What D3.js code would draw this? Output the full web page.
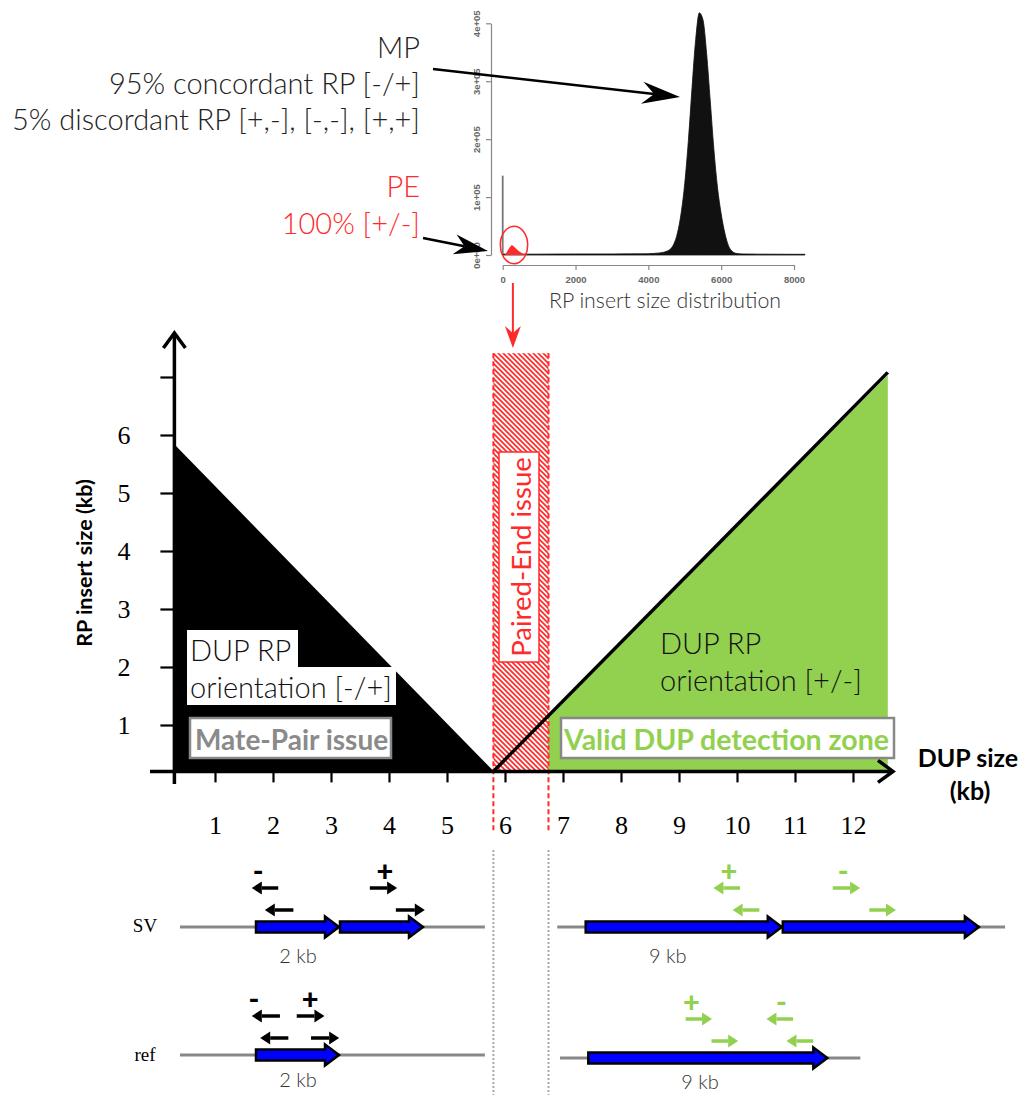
<!DOCTYPE html>
<html><head><meta charset="utf-8">
<script src="https://cdn.jsdelivr.net/npm/d3@7"></script>
<style>body{margin:0;background:#fff}svg{display:block}</style>
</head><body>
<svg id="c" width="1024" height="1095"></svg>
<script>
// ================= DATA =================
// main chart (kb)
const xTicks = [1,2,3,4,5,6,7,8,9,10,11,12];
const yTicks = [1,2,3,4,5,6,7];
const yTickLabels = ["1","2","3","4","5","6",""];
const mpZone = [[0.3,5.8],[0.3,0.2],[5.77,0.2]];
const peZone = [5.8, 6.75];
const peTop = 7.41;
const validZone = [[6.72,1.13],[12.6,7.03],[12.6,0.2],[6.72,0.2]];
const dupLine = [[5.8,0.2],[12.6,7.08]];

// insert size histogram
const histInsert = [0,1000,2000,3000,3800,4000,4100,4200,4300,4400,4500,4600,4700,4800,4900,5000,5100,5200,5300,5400,5500,5600,5700,5800,5900,6000,6100,6200,6300,6400,6500,6600,7000,8000,8300];
const histCount  = [1500,1500,1800,1800,2000,2200,2500,3000,3500,4500,6500,10000,19000,38000,72000,124000,198000,289000,372000,418000,406000,348000,266000,182000,116000,71000,38000,16000,6500,3000,2200,1800,1500,1200,1200];
const peInsert = [60,100,150,200,250,300,350,400,450,500,550,600,650,700];
const peCount  = [0,4000,9000,14000,17300,15000,12000,9000,6500,4500,2800,1500,600,0];
const spikeCount = 137000;
const histXTicks = [0,2000,4000,6000,8000];
const histYTicks = [0,100000,200000,300000,400000];

// schematic (kb along each row)
const dupLeftKb = 2, dupRightKb = 9;
const leftSVReads  = [{from:-0.1,to:0.53,tier:2,dir:-1},{from:0.21,to:0.89,tier:1,dir:-1},{from:2.71,to:3.36,tier:2,dir:1},{from:3.33,to:4.02,tier:1,dir:1}];
const leftSVSigns  = [{at:0.05,s:"-"},{at:3.07,s:"+"}];
const leftRefReads = [{from:-0.1,to:0.57,tier:2,dir:-1},{from:0.97,to:1.63,tier:2,dir:1},{from:0.1,to:0.77,tier:1,dir:-1},{from:1.31,to:1.98,tier:1,dir:1}];
const leftRefSigns = [{at:-0.05,s:"-"},{at:1.29,s:"+"}];
const rightSVReads = [{from:5.83,to:7.05,tier:2,dir:-1},{from:6.71,to:7.93,tier:1,dir:-1},{from:11.28,to:12.53,tier:2,dir:1},{from:12.95,to:14.17,tier:1,dir:1}];
const rightSVSigns = [{at:6.54,s:"+"},{at:11.76,s:"-"}];
const rightRefReads= [{from:3.65,to:4.64,tier:2,dir:1},{from:4.62,to:5.62,tier:1,dir:1},{from:6.68,to:7.68,tier:2,dir:-1},{from:7.43,to:8.43,tier:1,dir:-1}];
const rightRefSigns= [{at:3.87,s:"+"},{at:7.24,s:"-"}];

// ================= DRAW =================
const svg = d3.select("#c");
const LATO = "Lato, 'Open Sans', sans-serif";
const SERIF = "'Liberation Serif', 'DejaVu Serif', serif";
const RED = "#ff2a2a", GREEN = "#92d050";

const x = d3.scaleLinear().domain([0,13]).range([157,157+58*13]);
const y = d3.scaleLinear().domain([0,7]).range([783,377]);

// defs: hatch
const defs = svg.append("defs");
const pat = defs.append("pattern").attr("id","hatch").attr("patternUnits","userSpaceOnUse").attr("width",5).attr("height",5);
pat.append("rect").attr("width",5).attr("height",5).attr("fill","#fff");
pat.append("path").attr("d","M0,0L5,5M-1,4L1,6M4,-1L6,1").attr("stroke",RED).attr("stroke-width",1.7);

function barb(g,x1,y1,x2,y2,len,half,notch,color,w){
  const dx=x2-x1, dy=y2-y1, L=Math.hypot(dx,dy), ux=dx/L, uy=dy/L, nx=-uy, ny=ux;
  const bx=x2-ux*len, by=y2-uy*len, mx=x2-ux*(len-notch), my=y2-uy*(len-notch);
  g.append("line").attr("x1",x1).attr("y1",y1).attr("x2",mx).attr("y2",my).attr("stroke",color).attr("stroke-width",w);
  g.append("path").attr("d",`M${x2},${y2}L${bx+nx*half},${by+ny*half}L${mx},${my}L${bx-nx*half},${by-ny*half}Z`).attr("fill",color);
}

// ---------- histogram ----------
const hx = d3.scaleLinear().domain([0,8000]).range([502.7,794]);
const hy = d3.scaleLinear().domain([0,400000]).range([255,23.3]);
const hg = svg.append("g");
const hxa = hg.append("g").attr("transform","translate(0,265)").call(d3.axisBottom(hx).tickValues(histXTicks).tickSize(5).tickSizeOuter(0).tickPadding(6).tickFormat(d3.format("d")));
const hya = hg.append("g").attr("transform","translate(491,0)").call(d3.axisLeft(hy).tickValues(histYTicks).tickSize(5).tickSizeOuter(0)
   .tickFormat(d=> d===0?"0e+00":(d/1e5)+"e+05"));
[hxa,hya].forEach(a=>{a.selectAll("path,line").attr("stroke","#888").attr("stroke-width",1.2);
  a.selectAll("text").attr("fill","#666").style("font-family","'Liberation Sans', Arial, sans-serif").style("font-size","9.5px").style("font-weight","bold");});
hya.selectAll("text").attr("transform","rotate(-90)").attr("x",0).attr("y",-11).attr("dy",0).attr("text-anchor","middle");
hg.append("line").attr("x1",hx(0)).attr("x2",hx(0)).attr("y1",hy(0)).attr("y2",hy(spikeCount)).attr("stroke","#777").attr("stroke-width",1.8);
const hist = histInsert.map((v,i)=>[v,histCount[i]]);
hg.append("path").datum(hist).attr("d",d3.area().x(d=>hx(d[0])).y0(hy(0)).y1(d=>hy(d[1])).curve(d3.curveMonotoneX))
  .attr("fill","#111").attr("stroke","#111").attr("stroke-width",0.8);
const pe = peInsert.map((v,i)=>[v,peCount[i]]);
hg.append("path").datum(pe).attr("d",d3.area().x(d=>hx(d[0])).y0(hy(0)).y1(d=>hy(d[1])).curve(d3.curveLinear)).attr("fill",RED);
hg.append("ellipse").attr("cx",hx(310)).attr("cy",hy(17300)).attr("rx",13.7).attr("ry",18.7).attr("fill","none").attr("stroke",RED).attr("stroke-width",1.5);
hg.append("text").attr("x",665).attr("y",308).attr("text-anchor","middle").attr("fill","#333")
  .style("font-family",LATO).style("font-weight",300).style("font-size","21.3px").text("RP insert size distribution");

// top-left annotation texts
const ann = svg.append("g").style("font-family",LATO).style("font-weight",300).style("font-size","29px").attr("text-anchor","end");
ann.append("text").attr("x",420).attr("y",58).attr("fill","#222").text("MP");
ann.append("text").attr("x",420).attr("y",94).attr("fill","#222").text("95% concordant RP [-/+]");
ann.append("text").attr("x",420).attr("y",130).attr("fill","#222").text("5% discordant RP [+,-], [-,-], [+,+]");
ann.append("text").attr("x",420).attr("y",197).attr("fill",RED).text("PE");
ann.append("text").attr("x",420).attr("y",234).attr("fill",RED).text("100% [+/-]");
barb(svg,433,69,680,97,38,11,12,"#000",2.5);
barb(svg,423,238,488,251,34,10,10,"#000",2.5);
barb(svg,hx(280),283,hx(280),348,22,8,7,RED,2);

// ---------- main chart ----------
const mg = svg.append("g");
mg.append("path").attr("d",d3.line().x(d=>x(d[0])).y(d=>y(d[1]))(mpZone)+"Z").attr("fill","#000");
mg.append("path").attr("d",d3.line().x(d=>x(d[0])).y(d=>y(d[1]))(validZone)+"Z").attr("fill",GREEN);
mg.append("rect").attr("x",x(peZone[0])).attr("y",y(peTop)).attr("width",x(peZone[1])-x(peZone[0])).attr("height",y(0.2)-y(peTop)).attr("fill","url(#hatch)");
peZone.forEach(v=>mg.append("line").attr("x1",x(v)).attr("x2",x(v)).attr("y1",y(peTop)).attr("y2",832)
  .attr("stroke",RED).attr("stroke-width",2).attr("stroke-dasharray","5,3"));
mg.append("line").attr("x1",x(mpZone[0][0])).attr("y1",y(mpZone[0][1])).attr("x2",x(mpZone[2][0])).attr("y2",y(mpZone[2][1])).attr("stroke","#000").attr("stroke-width",3);
mg.append("path").attr("d",d3.line().x(d=>x(d[0])).y(d=>y(d[1]))(dupLine)).attr("stroke","#000").attr("stroke-width",3.5).attr("fill","none");

// axes
const xa = mg.append("g").attr("transform",`translate(0,${y(0.2)})`).call(d3.axisBottom(x).tickValues(xTicks).tickSize(11).tickSizeOuter(0).tickPadding(33));
const ya = mg.append("g").attr("transform",`translate(${x(0.3)},0)`).call(d3.axisLeft(y).tickValues(yTicks).tickSize(14).tickSizeOuter(0).tickPadding(30).tickFormat((d,i)=>yTickLabels[i]));
[xa,ya].forEach(a=>{a.select(".domain").remove(); a.selectAll("line").attr("stroke","#000").attr("stroke-width",2.2);
  a.selectAll("text").attr("fill","#000").style("font-family",SERIF).style("font-size","26px");});
mg.append("line").attr("x1",150).attr("x2",892).attr("y1",y(0.2)).attr("y2",y(0.2)).attr("stroke","#000").attr("stroke-width",3.5);
mg.append("line").attr("x1",x(0.3)).attr("x2",x(0.3)).attr("y1",784).attr("y2",334).attr("stroke","#000").attr("stroke-width",3.5);
mg.append("path").attr("d",`M${x(0.3)-11},348L${x(0.3)},333L${x(0.3)+11},348`).attr("fill","none").attr("stroke","#000").attr("stroke-width",3.5);
mg.append("path").attr("d",`M878,${y(0.2)-11}L893,${y(0.2)}L878,${y(0.2)+11}`).attr("fill","none").attr("stroke","#000").attr("stroke-width",3.5);

mg.append("text").attr("transform","translate(92,563) rotate(-90)").attr("text-anchor","middle")
  .style("font-family",LATO).style("font-weight","bold").style("font-size","21.5px").text("RP insert size (kb)");
mg.append("text").attr("x",968).attr("y",767).attr("text-anchor","middle").style("font-family",LATO).style("font-weight","bold").style("font-size","25px").text("DUP size");
mg.append("text").attr("x",970).attr("y",800).attr("text-anchor","middle").style("font-family",LATO).style("font-weight","bold").style("font-size","25px").text("(kb)");

// labels in zones
mg.append("rect").attr("x",187).attr("y",630).attr("width",111).attr("height",38).attr("fill","#fff");
mg.append("rect").attr("x",187).attr("y",667).attr("width",209).attr("height",38).attr("fill","#fff");
const lt = mg.append("g").style("font-family",LATO).style("font-weight",300).style("font-size","29px").attr("fill","#111");
lt.append("text").attr("x",190).attr("y",661).text("DUP RP");
lt.append("text").attr("x",190).attr("y",698).text("orientation [-/+]");
lt.append("text").attr("x",660).attr("y",654).text("DUP RP");
lt.append("text").attr("x",660).attr("y",691).text("orientation [+/-]");

mg.append("rect").attr("x",190).attr("y",718).attr("width",201).attr("height",40).attr("fill","#fff").attr("stroke","#888").attr("stroke-width",2.5);
mg.append("text").attr("x",195).attr("y",750).attr("fill","#8a8a8a").style("font-family",LATO).style("font-weight","bold").style("font-size","28px").text("Mate-Pair issue");
mg.append("rect").attr("x",561).attr("y",718).attr("width",333).attr("height",40).attr("fill","#fff").attr("stroke","#888").attr("stroke-width",2.5);
mg.append("text").attr("x",564).attr("y",750).attr("fill",GREEN).style("font-family",LATO).style("font-weight","bold").style("font-size","28.5px").text("Valid DUP detection zone");
mg.append("rect").attr("x",499).attr("y",452).attr("width",40).attr("height",210).attr("fill","#fff").attr("stroke",RED).attr("stroke-width",1.5);
mg.append("text").attr("transform","translate(531,557) rotate(-90)").attr("text-anchor","middle").attr("fill",RED)
  .style("font-family",LATO).style("font-size","27.5px").text("Paired-End issue");

// ---------- schematic ----------
const sg = svg.append("g");
[x(peZone[0]), x(peZone[1])].forEach(v=>sg.append("line").attr("x1",v).attr("x2",v).attr("y1",850).attr("y2",1095)
  .attr("stroke","#aaa").attr("stroke-width",2).attr("stroke-dasharray","2,2"));
const rows = [
  {lineY:927, origin:256, pxKb:42, dup:dupLeftKb, copies:2, from:-1.81, to:5.45, reads:leftSVReads, signs:leftSVSigns, color:"#000", lab:{at:1,y:963}},
  {lineY:1055, origin:256, pxKb:42, dup:dupLeftKb, copies:1, from:-1.81, to:5.45, reads:leftRefReads, signs:leftRefSigns, color:"#000", lab:{at:1,y:1087}},
  {lineY:927, origin:585.7, pxKb:21.9, dup:dupRightKb, copies:2, from:-1.3, to:19.15, reads:rightSVReads, signs:rightSVSigns, color:GREEN, lab:{at:3.75,y:963}},
  {lineY:1058, origin:588.3, pxKb:26.67, dup:dupRightKb, copies:1, from:-1.06, to:10.2, reads:rightRefReads, signs:rightRefSigns, color:GREEN, lab:{at:4.19,y:1089}},
];
const tierOff = {1:-17, 2:-39};
rows.forEach(r=>{
  const s = d3.scaleLinear().domain([0,1]).range([r.origin, r.origin+r.pxKb]);
  const yy = r.lineY;
  sg.append("line").attr("x1",s(r.from)).attr("x2",s(r.to)).attr("y1",yy).attr("y2",yy).attr("stroke","#888").attr("stroke-width",3);
  for(let c=0;c<r.copies;c++){
    const x0=s(c*r.dup), x1=s((c+1)*r.dup)-1, hl=14;
    sg.append("path").attr("d",`M${x0},${yy-5.5}L${x1-hl},${yy-5.5}L${x1-hl},${yy-10.5}L${x1},${yy}L${x1-hl},${yy+10.5}L${x1-hl},${yy+5.5}L${x0},${yy+5.5}Z`)
      .attr("fill","#0000ff").attr("stroke","#000").attr("stroke-width",2.5).attr("stroke-linejoin","miter");
  }
  sg.append("text").attr("x",s(r.lab.at)).attr("y",r.lab.y).attr("text-anchor","middle").attr("fill","#333")
    .style("font-family",LATO).style("font-weight",300).style("font-size","20px").text(r.dup+" kb");
  r.reads.forEach(d=>{
    const ry = yy+tierOff[d.tier];
    const a = s(d.from), b = s(d.to);
    const tip = d.dir>0? b : a, tail = d.dir>0? a : b, hb = tip - d.dir*10;
    sg.append("line").attr("x1",tail).attr("x2",hb).attr("y1",ry).attr("y2",ry).attr("stroke",r.color).attr("stroke-width",3.5);
    sg.append("path").attr("d",`M${tip},${ry}L${hb},${ry-6.5}L${hb},${ry+6.5}Z`).attr("fill",r.color);
  });
  r.signs.forEach(d=>{
    sg.append("text").attr("x",s(d.at)).attr("y",yy-56).attr("dy","0.35em").attr("text-anchor","middle").attr("fill",r.color)
      .style("font-family",LATO).style("font-weight","900").style("font-size","29px").text(d.s);
  });
});
sg.append("text").attr("x",145).attr("y",932).attr("text-anchor","middle").style("font-family",SERIF).style("font-size","19px").text("SV");
sg.append("text").attr("x",145).attr("y",1061).attr("text-anchor","middle").style("font-family",SERIF).style("font-size","19px").text("ref");
</script>
</body></html>
